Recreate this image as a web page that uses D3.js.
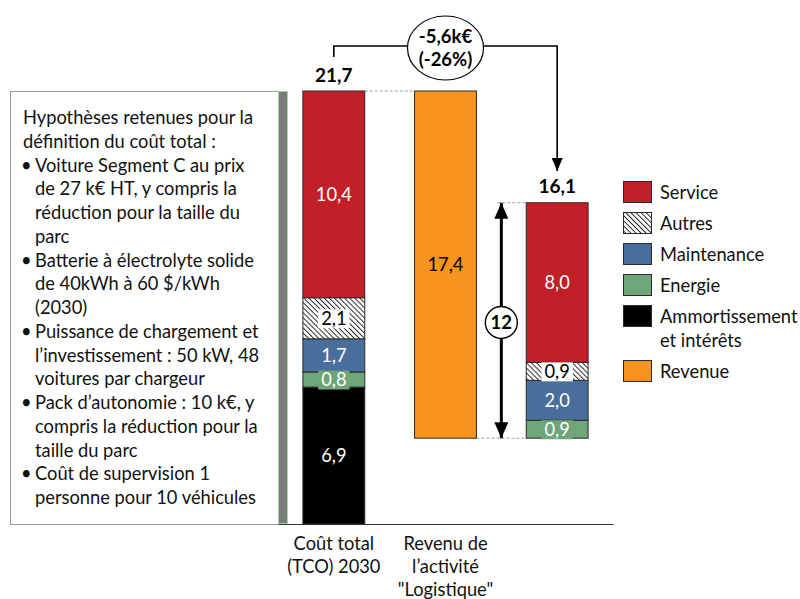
<!DOCTYPE html>
<html>
<head>
<meta charset="utf-8">
<script src="https://cdn.jsdelivr.net/npm/d3@7/dist/d3.min.js"></script>
<style>
  html, body { margin: 0; padding: 0; background: #fff; }
  svg { display: block; font-family: Lato, "Noto Sans", sans-serif; }
</style>
</head>
<body>
<svg id="chart" width="800" height="599"></svg>
<script>
// Categories (third column has no caption)
const categories = ["tco", "revenu", "net"];
const categoryLabels = [["Coût total", "(TCO) 2030"], ["Revenu de", "l’activité", "\"Logistique\""], []];

// Cost components, stacked bottom to top
const series = ["Ammortissement et intérêts", "Energie", "Maintenance", "Autres", "Service"];
const tcoValues = [6.86, 0.76, 1.66, 2.06, 10.36];
const netValues = [0, 0.9, 2.0, 0.9, 8.0];
const revenue = 17.4;

// Legend order
const legendItems = ["Service", "Autres", "Maintenance", "Energie", "Ammortissement et intérêts", "Revenue"];
const legendLines = { "Ammortissement et intérêts": ["Ammortissement", "et intérêts"] };

const assumptionsText = [
  { t: "Hypothèses retenues pour la", b: false },
  { t: "définition du coût total :", b: false },
  { t: "Voiture Segment C au prix", b: true },
  { t: "de 27 k€ HT, y compris la", b: false },
  { t: "réduction pour la taille du", b: false },
  { t: "parc", b: false },
  { t: "Batterie à électrolyte solide", b: true },
  { t: "de 40kWh à 60 $/kWh", b: false },
  { t: "(2030)", b: false },
  { t: "Puissance de chargement et", b: true },
  { t: "l’investissement : 50 kW, 48", b: false },
  { t: "voitures par chargeur", b: false },
  { t: "Pack d’autonomie : 10 k€, y", b: true },
  { t: "compris la réduction pour la", b: false },
  { t: "taille du parc", b: false },
  { t: "Coût de supervision 1", b: true },
  { t: "personne pour 10 véhicules", b: false }
];

const colors = {
  "Service": "#C21F29",
  "Autres": "url(#hatch)",
  "Maintenance": "#4A6E9C",
  "Energie": "#6EA679",
  "Ammortissement et intérêts": "#000000",
  "Revenue": "#F7941D"
};
const labelColors = {
  "Service": "#fff", "Autres": "#000", "Maintenance": "#fff",
  "Energie": "#fff", "Ammortissement et intérêts": "#fff", "Revenue": "#000"
};

const FS = 18.3;
const fmt = v => d3.format(".1f")(v).replace(".", ",").replace("\u2212", "-");

const svg = d3.select("#chart");

// Hatch pattern for "Autres"
const defs = svg.append("defs");
const pat = defs.append("pattern")
  .attr("id", "hatch").attr("patternUnits", "userSpaceOnUse")
  .attr("width", 3.6).attr("height", 3.6)
  .attr("patternTransform", "rotate(-45)");
pat.append("rect").attr("width", 3.6).attr("height", 3.6).attr("fill", "#fff");
pat.append("line").attr("x1", 0).attr("y1", 0).attr("x2", 0).attr("y2", 3.6)
  .attr("stroke", "#222").attr("stroke-width", 1.9);

const arrow = (id, w, h) => {
  defs.append("marker").attr("id", id)
    .attr("viewBox", `0 0 ${h} ${w}`).attr("refX", h).attr("refY", w / 2)
    .attr("markerWidth", h).attr("markerHeight", w)
    .attr("markerUnits", "userSpaceOnUse").attr("orient", "auto-start-reverse")
    .append("path").attr("d", `M0,0 L${h},${w / 2} L0,${w} Z`).attr("fill", "#000");
};
arrow("arrowSmall", 11, 13);
arrow("arrowBig", 14, 16);

// Scales
const x = d3.scaleBand().domain(categories).range([278, 613])
  .paddingInner(0.446).paddingOuter(0.223);
const y = d3.scaleLinear().domain([0, 21.7]).range([524, 91]);
const bw = x.bandwidth();
const cx = c => x(c) + bw / 2;

const tcoTotal = d3.sum(tcoValues);
const netBase = tcoTotal - revenue;
const netTotal = netBase + d3.sum(netValues);

// Assumptions box
svg.append("rect").attr("x", 10.5).attr("y", 91.5).attr("width", 268).attr("height", 433)
  .attr("fill", "#fff").attr("stroke", "#9a9a9a").attr("stroke-width", 1);
svg.append("rect").attr("x", 278.5).attr("y", 91.5).attr("width", 9).attr("height", 432)
  .attr("fill", "#7b7b7b").attr("stroke", "#a9d3a9").attr("stroke-width", 1);

const txt = svg.append("g").attr("font-size", FS).attr("fill", "#111");
assumptionsText.forEach((d, i) => {
  const yy = 124 + i * 23.75;
  if (d.b) txt.append("text").attr("x", 21).attr("y", yy).text("•");
  txt.append("text").attr("x", (i < 2) ? 23 : 35).attr("y", yy).text(d.t);
});

// Axis
const axis = svg.append("g").attr("transform", "translate(0,524)")
  .call(d3.axisBottom(x).tickSize(0).tickSizeOuter(0).tickFormat(""));
axis.select(".domain").attr("stroke", "#333").attr("stroke-width", 1.2);
axis.selectAll(".tick").each(function (c, i) {
  const t = d3.select(this).append("text").attr("fill", "#111")
    .attr("font-size", FS).attr("text-anchor", "middle").attr("font-family", "Lato, sans-serif");
  categoryLabels[i].forEach((ln, j) => {
    t.append("tspan").attr("x", 0).attr("y", 26 + j * 22.8).text(ln);
  });
});

// Stacked segments
function stackSegments(values, base) {
  let acc = base;
  return series.map((s, i) => {
    const seg = { key: s, v: values[i], y0: acc, y1: acc + values[i] };
    acc += values[i];
    return seg;
  }).filter(d => d.v > 0);
}
const bars = [
  { cat: "tco", segs: stackSegments(tcoValues, 0) },
  { cat: "revenu", segs: [{ key: "Revenue", v: revenue, y0: tcoTotal - revenue, y1: tcoTotal }] },
  { cat: "net", segs: stackSegments(netValues, netBase) }
];

// Dashed connectors
const dash = svg.append("g").attr("stroke", "#a0a0a0").attr("stroke-dasharray", "3,2").attr("stroke-width", 1);
dash.append("line").attr("x1", x("tco") + bw).attr("x2", x("revenu")).attr("y1", y(tcoTotal)).attr("y2", y(tcoTotal));
dash.append("line").attr("x1", x("revenu") + bw).attr("x2", x("net")).attr("y1", y(netBase)).attr("y2", y(netBase));
dash.append("line").attr("x1", (x("revenu") + bw + x("net")) / 2 - 4).attr("x2", x("net")).attr("y1", y(netTotal)).attr("y2", y(netTotal));

const barG = svg.append("g");
bars.forEach(b => {
  barG.selectAll(null).data(b.segs).enter().append("rect")
    .attr("x", x(b.cat)).attr("width", bw)
    .attr("y", d => y(d.y1)).attr("height", d => y(d.y0) - y(d.y1))
    .attr("fill", d => colors[d.key]).attr("stroke", "#2a2a2a").attr("stroke-width", 1);
});

// Segment value labels
const labG = svg.append("g").attr("font-size", FS).attr("text-anchor", "middle");
bars.forEach(b => {
  b.segs.forEach(d => {
    const mx = cx(b.cat), my = (y(d.y0) + y(d.y1)) / 2;
    const g = labG.append("g");
    const t = g.append("text").attr("x", mx).attr("y", my + 6.5)
      .attr("fill", labelColors[d.key]).text(fmt(d.v));
    if (d.key === "Autres" || d.key === "Energie") {
      const bb = t.node().getBBox();
      g.insert("rect", "text").attr("x", bb.x - 3).attr("y", my - 9)
        .attr("width", bb.width + 6).attr("height", 19)
        .attr("fill", d.key === "Autres" ? "#fff" : colors.Energie);
    }
  });
});

// Totals
svg.append("text").attr("x", cx("tco")).attr("y", 82).attr("text-anchor", "middle")
  .attr("font-weight", "bold").attr("font-size", 19).text(fmt(tcoTotal));
svg.append("text").attr("x", cx("net")).attr("y", 193).attr("text-anchor", "middle")
  .attr("font-weight", "bold").attr("font-size", 19).text(fmt(netTotal));

// Difference bracket
svg.append("path")
  .attr("d", `M${cx("tco")},57 V46 H${cx("net")} V171`)
  .attr("fill", "none").attr("stroke", "#000").attr("stroke-width", 1.6)
  .attr("marker-end", "url(#arrowSmall)");
svg.append("ellipse").attr("cx", cx("revenu")).attr("cy", 48).attr("rx", 38).attr("ry", 32)
  .attr("fill", "#fff").attr("stroke", "#000").attr("stroke-width", 1.2);
const diff = netTotal - tcoTotal;
const dt = svg.append("text").attr("text-anchor", "middle").attr("font-weight", "bold").attr("font-size", 18.5);
dt.append("tspan").attr("x", cx("revenu")).attr("y", 43).text(fmt(diff) + "k€");
dt.append("tspan").attr("x", cx("revenu")).attr("y", 66)
  .text("(" + d3.format(".0f")(diff / tcoTotal * 100).replace("\u2212", "-") + "%)");

// Revenue span arrow
const ax = (x("revenu") + bw + x("net")) / 2;
svg.append("line").attr("x1", ax).attr("x2", ax).attr("y1", y(netBase)).attr("y2", y(netTotal))
  .attr("stroke", "#000").attr("stroke-width", 3)
  .attr("marker-start", "url(#arrowBig)").attr("marker-end", "url(#arrowBig)");
const my = (y(netBase) + y(netTotal)) / 2 + 2;
svg.append("circle").attr("cx", ax).attr("cy", my).attr("r", 16)
  .attr("fill", "#fff").attr("stroke", "#000").attr("stroke-width", 1.4);
svg.append("text").attr("x", ax).attr("y", my + 6.5).attr("text-anchor", "middle")
  .attr("font-weight", "bold").attr("font-size", 18.5).text(d3.format(".0f")(netTotal - netBase));

// Legend
const lg = svg.append("g").attr("font-size", FS);
let ly = 181;
legendItems.forEach(k => {
  lg.append("rect").attr("x", 623.5).attr("y", ly + 0.5).attr("width", 28).attr("height", 21)
    .attr("fill", colors[k]).attr("stroke", "#2a2a2a").attr("stroke-width", 1);
  const lines = legendLines[k] || [k];
  lines.forEach((ln, j) => {
    lg.append("text").attr("x", 660).attr("y", ly + 17.5 + j * 24).attr("fill", "#111").text(ln);
  });
  ly += 31 + (lines.length - 1) * 24;
});
</script>
</body>
</html>
